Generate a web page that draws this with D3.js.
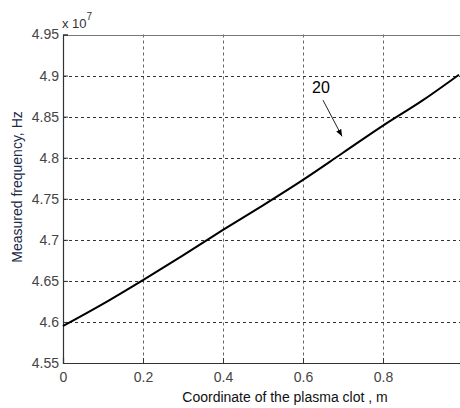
<!DOCTYPE html>
<html><head><meta charset="utf-8">
<script src="https://cdn.jsdelivr.net/npm/d3@7/dist/d3.min.js"></script>
<style>body{margin:0;background:#fff}svg{display:block}text{font-family:"Liberation Sans",Arial,sans-serif}</style>
</head><body><svg id="c" width="460" height="408"></svg>
<script>
const xCoord = [0, 0.1, 0.2, 0.3, 0.4, 0.5, 0.6, 0.7, 0.8, 0.9, 0.99];
const freq = [4.595e7, 4.622e7, 4.651e7, 4.681e7, 4.712e7, 4.742e7, 4.773e7, 4.806e7, 4.839e7, 4.870e7, 4.901e7];
const xTicks = [0, 0.2, 0.4, 0.6, 0.8];
const yTicks = [4.55, 4.6, 4.65, 4.7, 4.75, 4.8, 4.85, 4.9, 4.95];
const xLabel = "Coordinate of the plasma clot , m";
const yLabel = "Measured frequency, Hz";
const curveLabel = "20";

const svg = d3.select("#c");
const m = {l: 63, t: 34.5, r: 463, b: 363};
const x = d3.scaleLinear().domain([0, 1]).range([m.l, m.r]);
const y = d3.scaleLinear().domain([4.55, 4.95]).range([m.b, m.t]);

// grid
const g = svg.append("g");
g.selectAll(".gx").data(xTicks.slice(1)).join("line")
  .attr("x1", d => Math.round(x(d)) + 0.5).attr("x2", d => Math.round(x(d)) + 0.5)
  .attr("y1", m.t).attr("y2", m.b)
  .attr("stroke", "#666").attr("stroke-dasharray", "3,3").attr("stroke-width", 1);
g.selectAll(".gy").data(yTicks.slice(1, -1)).join("line")
  .attr("y1", d => Math.round(y(d)) + 0.5).attr("y2", d => Math.round(y(d)) + 0.5)
  .attr("x1", m.l).attr("x2", m.r)
  .attr("stroke", "#333").attr("stroke-dasharray", "3,3").attr("stroke-width", 1);

// frame top
svg.append("line").attr("x1", m.l).attr("x2", m.r).attr("y1", Math.round(m.t) + 0.5).attr("y2", Math.round(m.t) + 0.5)
  .attr("stroke", "#777");

// axes
const ax = svg.append("g").attr("transform", `translate(0,${m.b})`)
  .call(d3.axisBottom(x).tickValues(xTicks).tickSize(-5).tickPadding(9).tickFormat(d3.format("")));
const ay = svg.append("g").attr("transform", `translate(${m.l},0)`)
  .call(d3.axisLeft(y).tickValues(yTicks).tickSize(-5).tickPadding(4).tickFormat(d => d3.format("")(+d.toFixed(2))));
[ax, ay].forEach(a => {
  a.select(".domain").attr("stroke", "#333").attr("stroke-width", 1.2);
  a.selectAll(".tick line").attr("stroke", "#333");
  a.selectAll(".tick text").attr("font-size", 14).attr("fill", "#444");
});
ax.selectAll(".tick text").attr("dy", "0.71em");

// exponent
const ex = svg.append("text").attr("x", 62).attr("y", 28).attr("font-size", 13).attr("fill", "#333");
ex.append("tspan").text("x 10");
ex.append("tspan").attr("font-size", 10).attr("dy", -8).text("7");

// line
const line = d3.line().x((d, i) => x(xCoord[i])).y(d => y(d / 1e7)).curve(d3.curveMonotoneX);
svg.append("path").datum(freq).attr("d", line).attr("fill", "none")
  .attr("stroke", "#000").attr("stroke-width", 2);

// annotation
svg.append("defs").append("marker").attr("id", "ah").attr("viewBox", "0 0 10 10")
  .attr("refX", 10).attr("refY", 5).attr("markerWidth", 7).attr("markerHeight", 7).attr("orient", "auto")
  .append("path").attr("d", "M0,1 L10,5 L0,9 z").attr("fill", "#000");
svg.append("line").attr("x1", x(0.65)).attr("y1", y(4.87))
  .attr("x2", x(0.6975)).attr("y2", y(4.826))
  .attr("stroke", "#222").attr("stroke-width", 1).attr("marker-end", "url(#ah)");
svg.append("text").attr("x", x(0.6225)).attr("y", y(4.879)).attr("font-size", 16).attr("fill", "#000").text(curveLabel);

// labels
svg.append("text").attr("x", 285).attr("y", 402).attr("text-anchor", "middle")
  .attr("font-size", 14).attr("fill", "#111").text(xLabel);
svg.append("text").attr("transform", "translate(22,187) rotate(-90)").attr("text-anchor", "middle")
  .attr("font-size", 14).attr("fill", "#1a2a4a").text(yLabel);
</script></body></html>
